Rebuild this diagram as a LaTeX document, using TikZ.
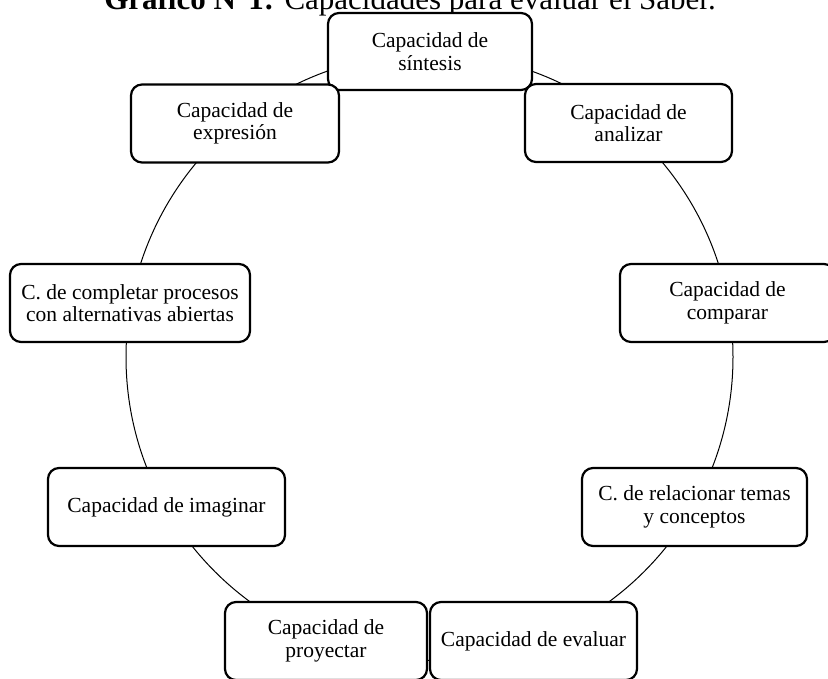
\documentclass[tikz,border=0pt]{standalone}
\usepackage{fontspec}
\setmainfont{Liberation Serif}
\begin{document}
\begin{tikzpicture}[x=1pt,y=-1pt,
  capbox/.style={draw, line width=2.2pt, rounded corners=11pt, fill=white,
    align=center, inner sep=0pt, minimum height=78pt,
    font=\fontsize{21.5}{22.5}\selectfont},
  ring/.style={line width=1pt}]
\useasboundingbox (0,0) rectangle (828,679);
\clip (0,0) rectangle (828,679);
\coordinate (cc) at (429.5,357);
\draw[ring] (cc) circle[radius=303.5pt];
\node[anchor=base, font=\fontsize{31}{33}\selectfont] (title) at (410,10)
  {\textbf{Gráfico N°1:} Capacidades para evaluar el Saber.};
\node[capbox, minimum width=204pt, minimum height=77pt] (sin) at (430,51.5) {Capacidad de\\síntesis};
\node[capbox, minimum width=207pt] (ana) at (628.5,123) {Capacidad de\\analizar};
\node[capbox, minimum width=208pt] (exp) at (235,123.5) {Capacidad de\\expresión};
\node[capbox, minimum width=215pt] (com) at (727.5,303) {Capacidad de\\comparar};
\node[capbox, minimum width=240pt] (cpl) at (130,303) {C. de completar procesos\\con alternativas abiertas};
\node[capbox, minimum width=237pt] (ima) at (166.5,507) {Capacidad de imaginar};
\node[capbox, minimum width=225pt] (rel) at (694.5,507) {C. de relacionar temas\\y conceptos};
\node[capbox, minimum width=202pt] (pro) at (326,641) {Capacidad de\\proyectar};
\node[capbox, minimum width=207pt] (eva) at (533.5,641) {Capacidad de evaluar};
\end{tikzpicture}
\end{document}
